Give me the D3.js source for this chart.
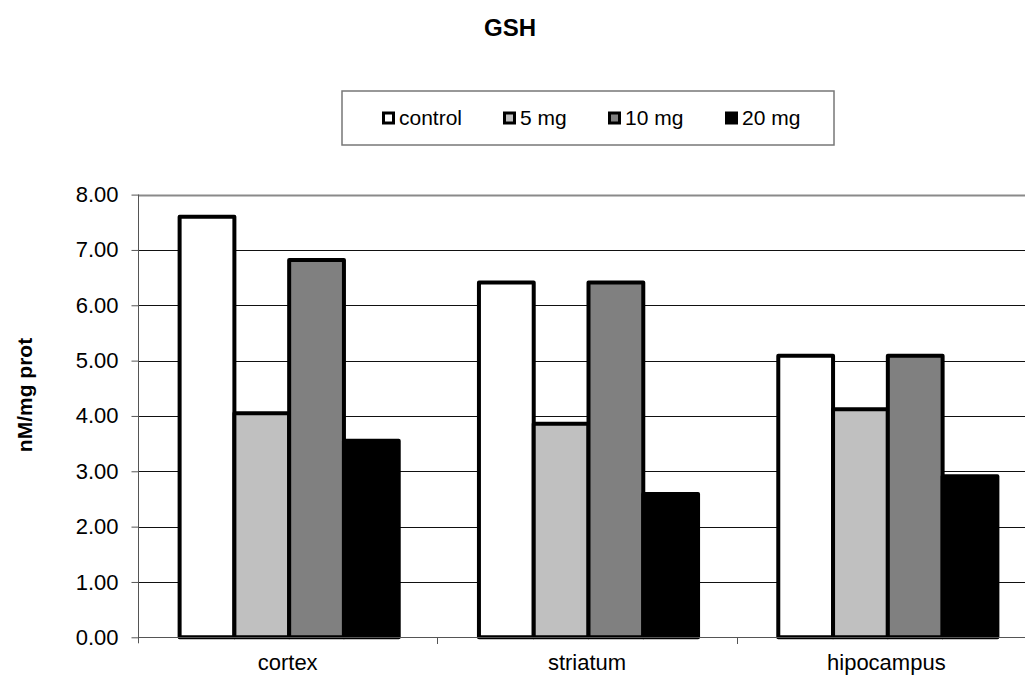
<!DOCTYPE html>
<html>
<head>
<meta charset="utf-8">
<script src="https://cdn.jsdelivr.net/npm/d3@7"></script>
<style>
  html, body { margin: 0; padding: 0; background: #fff; }
  svg { display: block; font-family: "Liberation Sans", Arial, sans-serif; }
</style>
</head>
<body>
<svg id="chart" width="1025" height="680"></svg>
<script>
// ---- data ----
const categories = ["cortex", "striatum", "hipocampus"];
const seriesNames = ["control", "5 mg", "10 mg", "20 mg"];
const control = [7.60, 6.41, 5.09];
const mg5 = [4.05, 3.86, 4.12];
const mg10 = [6.82, 6.41, 5.09];
const mg20 = [3.55, 2.59, 2.91];
const yTicks = [0, 1, 2, 3, 4, 5, 6, 7, 8];
const title = "GSH";
const yLabel = "nM/mg prot";

const seriesValues = [control, mg5, mg10, mg20];
const fills = ["#ffffff", "#c0c0c0", "#808080", "#000000"];

const svg = d3.select("#chart");
const plot = { left: 138, right: 1036, top: 194.6, bottom: 637.3 };

const y = d3.scaleLinear().domain([0, 8]).range([plot.bottom, plot.top]);
const x0 = d3.scaleBand().domain(categories).range([plot.left, plot.right])
  .paddingInner(0.268).paddingOuter(0.134);
const x1 = d3.scaleBand().domain(seriesNames).range([0, x0.bandwidth()]);

// gridlines
svg.append("g").selectAll("line").data(yTicks.filter(d => d > 0)).join("line")
  .attr("x1", plot.left).attr("x2", plot.right)
  .attr("y1", d => Math.round(y(d)) + 0.5).attr("y2", d => Math.round(y(d)) + 0.5)
  .attr("stroke", d => d === 8 ? "#8a8a8a" : "#111").attr("stroke-width", d => d === 8 ? 2 : 1);

// y axis
const yAxis = d3.axisLeft(y).tickValues(yTicks).tickFormat(d3.format(".2f"))
  .tickSize(7).tickPadding(13);
const gy = svg.append("g").attr("transform", `translate(${plot.left + 0.5},0)`).call(yAxis);
gy.select(".domain").attr("stroke", "#555").attr("d", `M0,${plot.top}V${plot.bottom + 6}`);
gy.selectAll(".tick line").attr("stroke", "#555");
gy.selectAll(".tick text").attr("font-size", 22).attr("fill", "#000")
  .attr("font-family", "Liberation Sans, Arial, sans-serif");

// bars
const groups = svg.append("g").selectAll("g").data(categories).join("g")
  .attr("transform", d => `translate(${x0(d)},0)`);
groups.selectAll("rect")
  .data((c, ci) => seriesNames.map((s, si) => ({ s, si, v: seriesValues[si][ci] })))
  .join("rect")
  .attr("x", d => x1(d.s) + 1.5)
  .attr("width", x1.bandwidth())
  .attr("y", d => y(d.v))
  .attr("height", d => y(0) - y(d.v))
  .attr("fill", d => fills[d.si])
  .attr("stroke", "#000")
  .attr("stroke-width", 4)
  .attr("stroke-linejoin", "round");

// x axis
const xAxis = d3.axisBottom(x0).tickSize(0).tickPadding(17);
const gx = svg.append("g").attr("transform", `translate(0,${Math.round(plot.bottom) + 0.5})`).call(xAxis);
gx.select(".domain").attr("stroke", "#555").attr("d", `M${plot.left},0H${plot.right}`);
gx.selectAll(".tick text").attr("font-size", 22).attr("fill", "#000")
  .attr("font-family", "Liberation Sans, Arial, sans-serif");
// category separator ticks
const sepScale = d3.scaleLinear().domain([0, categories.length]).range([plot.left, plot.right]);
svg.append("g").selectAll("line").data(d3.range(1, categories.length)).join("line")
  .attr("x1", d => Math.round(sepScale(d)) + 0.5).attr("x2", d => Math.round(sepScale(d)) + 0.5)
  .attr("y1", Math.round(plot.bottom)).attr("y2", Math.round(plot.bottom) + 7)
  .attr("stroke", "#555");

// title
svg.append("text").attr("x", 510).attr("y", 36).attr("text-anchor", "middle")
  .attr("font-size", 24).attr("font-weight", "bold").text(title);

// y label
svg.append("text").attr("transform", "translate(32,395) rotate(-90)")
  .attr("text-anchor", "middle").attr("font-size", 21).attr("font-weight", "bold").text(yLabel);

// legend
const legend = svg.append("g");
legend.append("rect").attr("x", 342).attr("y", 91).attr("width", 492).attr("height", 54)
  .attr("fill", "#fff").attr("stroke", "#777").attr("stroke-width", 1.5);
const legendX = [382, 503, 608, 725];
const li = legend.selectAll("g.item").data(seriesNames).join("g").attr("class", "item")
  .attr("transform", (d, i) => `translate(${legendX[i]},118)`);
li.append("rect").attr("x", 1.5).attr("y", -5).attr("width", 10).attr("height", 10)
  .attr("fill", (d, i) => fills[i]).attr("stroke", "#000").attr("stroke-width", 3);
li.append("text").attr("x", 17).attr("y", 7).attr("font-size", 21).text(d => d);
</script>
</body>
</html>
